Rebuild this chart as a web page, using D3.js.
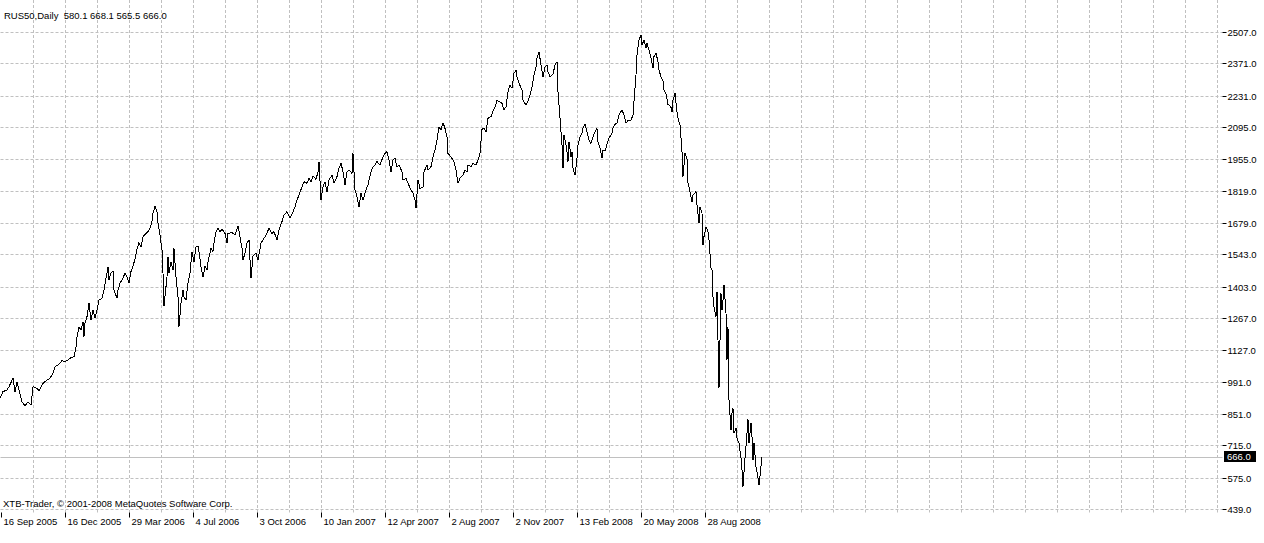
<!DOCTYPE html>
<html>
<head>
<meta charset="utf-8">
<script src="https://cdn.jsdelivr.net/npm/d3@7/dist/d3.min.js"></script>
<style>
  html, body { margin: 0; padding: 0; background: #fff; }
  svg text { font-family: Tahoma, "Liberation Sans", Arial, sans-serif; font-size: 9.5px; fill: #000; }
</style>
</head>
<body>
<svg id="svg" width="1264" height="543"></svg>
<script>
    // RUS50 daily closes, bar index -> close
    var bars = [0, 3, 7, 9, 13, 15, 17, 19, 22, 25, 28, 31, 33, 37, 39, 43, 47, 50, 53, 55, 58, 62, 65, 68, 71, 74, 76, 77, 79, 81,
        83, 84, 85, 87, 89, 91, 93, 95, 97, 99, 102, 104, 106, 108, 109, 111, 113, 114, 117, 118, 120, 123, 125, 127, 129, 131, 133, 135, 137, 139,
        141, 143, 146, 148, 150, 152, 153, 155, 157, 158, 160, 162, 163, 164, 166, 167, 168, 169, 171, 173, 174, 176, 178, 179, 181, 183, 184, 186, 188, 190,
        192, 194, 196, 198, 199, 201, 203, 205, 207, 208, 211, 213, 214, 216, 218, 220, 222, 225, 227, 228, 232, 235, 238, 240, 242, 243, 245, 247, 249, 251,
        253, 256, 258, 261, 263, 266, 269, 272, 274, 277, 279, 282, 284, 287, 290, 293, 295, 297, 299, 302, 304, 307, 309, 311, 313, 316, 318, 319, 321, 323,
        325, 327, 329, 332, 334, 337, 339, 341, 343, 345, 347, 349, 352, 353, 355, 357, 359, 361, 363, 366, 368, 371, 373, 375, 377, 380, 383, 385, 387, 389,
        391, 393, 395, 397, 399, 402, 403, 406, 408, 411, 413, 415, 416, 418, 420, 423, 424, 427, 428, 431, 433, 435, 437, 439, 441, 443, 445, 447, 448, 452,
        454, 456, 458, 460, 463, 465, 467, 468, 471, 473, 476, 478, 480, 482, 484, 486, 488, 491, 493, 495, 497, 499, 502, 504, 506, 508, 510, 512, 514, 516,
        517, 519, 522, 523, 526, 528, 530, 532, 534, 536, 537, 539, 541, 543, 545, 547, 548, 550, 553, 555, 557, 558, 560, 562, 563, 564, 566, 567, 568, 569,
        571, 572, 573, 575, 577, 578, 580, 582, 583, 585, 587, 589, 591, 593, 595, 597, 598, 600, 602, 603, 605, 607, 609, 612, 613, 615, 617, 619, 622, 624,
        626, 628, 631, 633, 634, 636, 637, 639, 641, 642, 644, 646, 647, 649, 651, 653, 654, 656, 658, 659, 661, 663, 664, 666, 668, 669, 671, 672, 673, 675,
        677, 678, 680, 681, 682, 683, 685, 687, 688, 689, 692, 693, 696, 697, 699, 700, 702, 703, 704, 706, 708, 709, 711, 712, 713, 714, 716, 717, 718, 719,
        721, 722, 723, 724, 726, 727, 728, 729, 731, 732, 733, 734, 736, 737, 739, 741, 742, 743, 745, 747, 748, 749, 751, 752, 753, 754, 756, 757, 759, 760,
        762];
    var closes = [919, 948, 955, 969, 1006, 948, 991, 955, 904, 886, 904, 890, 969, 962, 951, 984, 998, 1006, 1027, 1056, 1063, 1082, 1078, 1085, 1095, 1099, 1143, 1186, 1229, 1215,
        1251, 1186, 1244, 1273, 1331, 1258, 1302, 1266, 1302, 1345, 1353, 1388, 1439, 1487, 1432, 1463, 1472, 1388, 1353, 1388, 1418, 1439, 1463, 1446, 1418, 1468, 1493, 1522, 1565, 1594,
        1576, 1620, 1634, 1641, 1656, 1685, 1721, 1753, 1728, 1678, 1627, 1562, 1461, 1319, 1403, 1446, 1533, 1461, 1511, 1475, 1569, 1446, 1359, 1229, 1331, 1388, 1359, 1345, 1418, 1461,
        1555, 1511, 1574, 1579, 1555, 1490, 1446, 1490, 1475, 1511, 1569, 1555, 1591, 1641, 1656, 1641, 1652, 1634, 1591, 1634, 1637, 1627, 1666, 1620, 1569, 1519, 1548, 1591, 1605, 1439,
        1536, 1548, 1519, 1591, 1605, 1627, 1656, 1634, 1641, 1605, 1649, 1685, 1714, 1728, 1699, 1728, 1750, 1779, 1800, 1836, 1858, 1851, 1873, 1858, 1883, 1868, 1901, 1945, 1779, 1836,
        1858, 1815, 1865, 1887, 1851, 1880, 1916, 1938, 1901, 1844, 1901, 1909, 1894, 1981, 1822, 1793, 1750, 1808, 1779, 1822, 1844, 1901, 1923, 1930, 1945, 1930, 1966, 1981, 1988, 1952,
        1901, 1952, 1959, 1923, 1930, 1901, 1865, 1873, 1851, 1822, 1808, 1779, 1743, 1865, 1829, 1834, 1901, 1930, 1909, 1923, 1966, 1995, 2039, 2096, 2082, 2114, 2089, 2053, 1981, 1959,
        1945, 1909, 1851, 1873, 1887, 1909, 1901, 1930, 1923, 1938, 1930, 1952, 1981, 2085, 2090, 2075, 2133, 2140, 2165, 2180, 2212, 2205, 2198, 2169, 2183, 2248, 2277, 2263, 2328, 2342,
        2313, 2285, 2255, 2212, 2190, 2208, 2234, 2270, 2321, 2356, 2393, 2421, 2364, 2313, 2356, 2364, 2335, 2313, 2324, 2364, 2378, 2248, 2133, 2017, 1916, 2060, 2017, 1988, 1945, 2031,
        1966, 1988, 1916, 1887, 1959, 2017, 2053, 2068, 2089, 2107, 2075, 2039, 2024, 2053, 2075, 2089, 2031, 2003, 1962, 1995, 1991, 2020, 2046, 2068, 2089, 2107, 2111, 2147, 2169, 2147,
        2111, 2125, 2125, 2147, 2205, 2321, 2407, 2472, 2494, 2451, 2472, 2436, 2458, 2429, 2393, 2350, 2400, 2415, 2378, 2342, 2313, 2295, 2255, 2240, 2193, 2190, 2180, 2161, 2210, 2241,
        2161, 2133, 2104, 2046, 1988, 1880, 1981, 1959, 1851, 1836, 1771, 1800, 1815, 1757, 1678, 1750, 1721, 1584, 1620, 1663, 1641, 1605, 1483, 1475, 1359, 1316, 1273, 1381, 1172, 962,
        1374, 1302, 1345, 1410, 1287, 1085, 1229, 911, 782, 854, 876, 767, 789, 746, 724, 659, 608, 536, 659, 767, 828, 724, 811, 753, 652, 724, 623, 601, 543, 580,
        666];

    // axis labels
    var dateLabels = ['16 Sep 2005', '16 Dec 2005', '29 Mar 2006', '4 Jul 2006', '3 Oct 2006', '10 Jan 2007',
        '12 Apr 2007', '2 Aug 2007', '2 Nov 2007', '13 Feb 2008', '20 May 2008', '28 Aug 2008'];
    var dateBars = [1, 65, 129, 193, 257, 321, 385, 449, 513, 577, 641, 705];
    var priceTicks = [2507, 2371, 2231, 2095, 1955, 1819, 1679, 1543, 1403, 1267, 1127, 991, 851, 715, 575, 439];
    var lastBar = {open: 580.1, high: 668.1, low: 565.5, close: 666.0};
    var symbol = 'RUS50,Daily';
    var copyright = 'XTB-Trader, \u00a9 2001-2008 MetaQuotes Software Corp.';

    var svg = d3.select("#svg"),
        left = 0.5, right = 1222.5, top = 7.5, bottom = 512.5;

    // 1 bar = 1 pixel
    var x = d3.scaleLinear().domain([0, 1222]).range([0, 1222]);
    var y = d3.scaleLinear().domain([439, 2507]).range([509, 32]);

    var gridBars = d3.range(33, 1222, 32);

    // grid
    svg.append("g").selectAll("line.v")
        .data(gridBars)
        .enter().append("line")
        .attr("x1", function (d) { return Math.round(x(d)) + 0.5; })
        .attr("x2", function (d) { return Math.round(x(d)) + 0.5; })
        .attr("y1", top).attr("y2", bottom)
        .attr("stroke", "#c0c0c0").attr("stroke-dasharray", "3,2");
    svg.append("g").selectAll("line.h")
        .data(priceTicks)
        .enter().append("line")
        .attr("x1", left).attr("x2", right)
        .attr("y1", function (d) { return Math.round(y(d)) + 0.5; })
        .attr("y2", function (d) { return Math.round(y(d)) + 0.5; })
        .attr("stroke", "#c0c0c0").attr("stroke-dasharray", "3,2");

    // last price line
    svg.append("line")
        .attr("x1", left).attr("x2", right)
        .attr("y1", Math.round(y(lastBar.close)) + 0.5)
        .attr("y2", Math.round(y(lastBar.close)) + 0.5)
        .attr("stroke", "#c0c0c0");

    // close line
    var line = d3.line()
        .x(function (d) { return x(d[0]); })
        .y(function (d) { return y(d[1]); });
    svg.append("path")
        .datum(d3.zip(bars, closes))
        .attr("d", line)
        .attr("fill", "none")
        .attr("stroke", "#000")
        .attr("stroke-width", 1)
        .attr("shape-rendering", "crispEdges");

    // frame
    svg.append("rect")
        .attr("x", left).attr("y", top)
        .attr("width", right - left).attr("height", bottom - top)
        .attr("fill", "none").attr("stroke", "#000");

    // price axis
    var pa = svg.append("g").selectAll("g")
        .data(priceTicks)
        .enter().append("g")
        .attr("transform", function (d) { return "translate(" + right + "," + (Math.round(y(d)) + 0.5) + ")"; });
    pa.append("line").attr("x1", 0).attr("x2", 4).attr("stroke", "#000");
    pa.append("text").attr("x", 5).attr("dy", "0.35em")
        .text(function (d) { return d.toFixed(1); });

    // last price tag
    var yc = Math.round(y(lastBar.close));
    svg.append("rect")
        .attr("x", 1224).attr("y", yc - 6)
        .attr("width", 32).attr("height", 11)
        .attr("fill", "#000");
    svg.append("text")
        .attr("x", 1227).attr("y", yc).attr("dy", "0.35em")
        .style("fill", "#fff")
        .text(lastBar.close.toFixed(1));

    // time axis
    var ta = svg.append("g").selectAll("g")
        .data(dateBars)
        .enter().append("g")
        .attr("transform", function (d) { return "translate(" + (Math.round(x(d)) + 0.5) + "," + bottom + ")"; });
    ta.append("line").attr("y1", 0).attr("y2", 5).attr("stroke", "#000");
    ta.append("text").attr("x", 2).attr("y", 12)
        .text(function (d, i) { return dateLabels[i]; });

    // header and copyright
    svg.append("text").attr("x", 4).attr("y", 19)
        .attr("xml:space", "preserve")
        .text(symbol + '  ' + [lastBar.open, lastBar.high, lastBar.low, lastBar.close].map(function (v) { return v.toFixed(1); }).join(' '));
    svg.append("text").attr("x", 3).attr("y", 507)
        .text(copyright);
</script>
</body>
</html>
